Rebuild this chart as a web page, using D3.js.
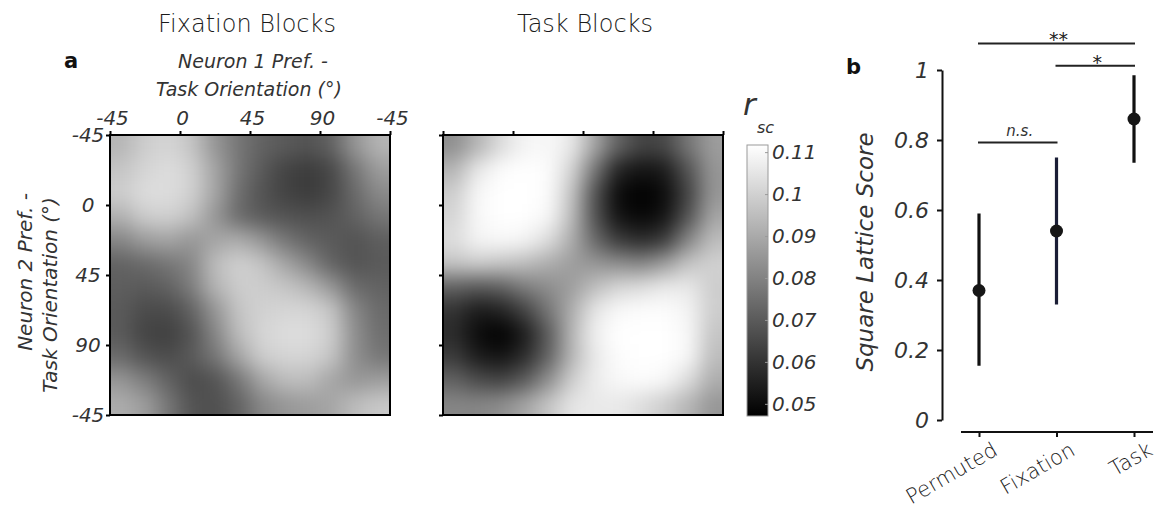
<!DOCTYPE html>
<html>
<head>
<meta charset="utf-8">
<script src="https://cdn.jsdelivr.net/npm/d3@7"></script>
<style>
  body { margin: 0; background: #fff; }
  svg text { font-family: "DejaVu Sans", "Liberation Sans", sans-serif; font-weight: 300; fill: #1a1a1a; }
  svg text.it { font-style: italic; fill: #333; }
  svg text.panel { font-weight: 700; fill: #111; }
  svg text.star { font-weight: 400; fill: #222; }
</style>
</head>
<body>
<svg id="chart" width="1160" height="510"></svg>
<script>
// ---- data -------------------------------------------------------------
// Orientation difference axis (deg), wraps around at 180
const orientTicks = [-45, 0, 45, 90, 135];
const orientTickLabels = ["-45", "0", "45", "90", "-45"];

// Noise correlation (r_sc) maps, rows = neuron 2 (top -> bottom), cols = neuron 1 (left -> right)
const fixationRsc = [
  [0.093, 0.099, 0.101, 0.097, 0.085, 0.077, 0.072, 0.070, 0.068, 0.072, 0.085, 0.093],
  [0.097, 0.101, 0.103, 0.100, 0.089, 0.077, 0.070, 0.064, 0.062, 0.065, 0.077, 0.087],
  [0.099, 0.103, 0.103, 0.100, 0.089, 0.075, 0.068, 0.064, 0.062, 0.065, 0.074, 0.082],
  [0.092, 0.099, 0.100, 0.096, 0.085, 0.074, 0.070, 0.068, 0.067, 0.068, 0.072, 0.077],
  [0.081, 0.087, 0.089, 0.085, 0.089, 0.091, 0.085, 0.077, 0.072, 0.070, 0.068, 0.071],
  [0.072, 0.074, 0.077, 0.081, 0.095, 0.100, 0.097, 0.089, 0.081, 0.072, 0.068, 0.070],
  [0.071, 0.070, 0.072, 0.079, 0.093, 0.099, 0.099, 0.097, 0.093, 0.085, 0.074, 0.072],
  [0.070, 0.066, 0.066, 0.072, 0.085, 0.097, 0.100, 0.101, 0.101, 0.097, 0.081, 0.074],
  [0.070, 0.064, 0.063, 0.068, 0.081, 0.095, 0.101, 0.103, 0.103, 0.099, 0.083, 0.075],
  [0.074, 0.068, 0.066, 0.070, 0.077, 0.089, 0.099, 0.101, 0.101, 0.097, 0.083, 0.077],
  [0.085, 0.079, 0.072, 0.066, 0.068, 0.077, 0.089, 0.095, 0.095, 0.089, 0.085, 0.087],
  [0.091, 0.087, 0.077, 0.068, 0.067, 0.072, 0.081, 0.085, 0.087, 0.089, 0.095, 0.098]
];
const taskRsc = [
  [0.083, 0.093, 0.103, 0.109, 0.110, 0.106, 0.089, 0.072, 0.064, 0.065, 0.077, 0.087],
  [0.093, 0.106, 0.111, 0.112, 0.111, 0.101, 0.077, 0.056, 0.052, 0.054, 0.068, 0.085],
  [0.099, 0.110, 0.113, 0.114, 0.111, 0.097, 0.068, 0.050, 0.047, 0.050, 0.064, 0.085],
  [0.101, 0.110, 0.113, 0.114, 0.110, 0.095, 0.068, 0.052, 0.049, 0.052, 0.068, 0.089],
  [0.103, 0.109, 0.110, 0.109, 0.103, 0.091, 0.074, 0.062, 0.058, 0.062, 0.081, 0.095],
  [0.097, 0.099, 0.097, 0.095, 0.091, 0.087, 0.085, 0.083, 0.081, 0.087, 0.097, 0.100],
  [0.072, 0.070, 0.072, 0.079, 0.083, 0.087, 0.095, 0.101, 0.103, 0.106, 0.106, 0.099],
  [0.060, 0.054, 0.056, 0.064, 0.077, 0.091, 0.105, 0.110, 0.111, 0.111, 0.109, 0.099],
  [0.058, 0.050, 0.047, 0.054, 0.070, 0.093, 0.108, 0.112, 0.113, 0.114, 0.110, 0.097],
  [0.062, 0.054, 0.052, 0.058, 0.072, 0.093, 0.106, 0.111, 0.114, 0.114, 0.110, 0.095],
  [0.072, 0.066, 0.064, 0.070, 0.083, 0.099, 0.107, 0.110, 0.111, 0.110, 0.103, 0.091],
  [0.081, 0.081, 0.083, 0.089, 0.097, 0.105, 0.106, 0.106, 0.103, 0.099, 0.093, 0.085]
];

// Colour bar
const rscRange = [0.0471, 0.1117];
const colorbarTicks = [0.05, 0.06, 0.07, 0.08, 0.09, 0.10, 0.11];
const colorbarLabels = ["0.05", "0.06", "0.07", "0.08", "0.09", "0.1", "0.11"];

// Square lattice score per condition (mean and interval)
const conditions = ["Permuted", "Fixation", "Task"];
const scoreMean = [0.37, 0.54, 0.86];
const scoreLow = [0.155, 0.33, 0.735];
const scoreHigh = [0.59, 0.75, 0.985];
const barColors = ["#111111", "#1b1e36", "#111111"];
const scoreTicks = [0, 0.2, 0.4, 0.6, 0.8, 1];
const scoreTickLabels = ["0", "0.2", "0.4", "0.6", "0.8", "1"];

// Pairwise comparisons
const compFrom = ["Permuted", "Fixation", "Permuted"];
const compTo = ["Task", "Task", "Fixation"];
const compLevel = [1.076, 1.012, 0.793];
const compLabel = ["**", "*", "n.s."];

// ---- drawing ----------------------------------------------------------
const svg = d3.select("#chart");
const defs = svg.append("defs");

const color = d3.scaleLinear().domain(rscRange).range(["#000000", "#ffffff"]).clamp(true);

// smoothing filter for the correlation maps
const filt = defs.append("filter")
  .attr("id", "smooth")
  .attr("filterUnits", "userSpaceOnUse")
  .attr("x", -60).attr("y", -60).attr("width", 400).attr("height", 400)
  .attr("color-interpolation-filters", "sRGB");
filt.append("feGaussianBlur").attr("stdDeviation", 10);

const mapSize = 280;
const mapTop = 135;
const orient = d3.scaleLinear().domain([-45, 135]).range([0, mapSize]);

function drawMap(grid, left, id, labelled) {
  const g = svg.append("g").attr("transform", `translate(${left},${mapTop})`);
  const n = grid.length;
  const band = d3.scaleBand().domain(d3.range(n)).range([0, mapSize]);
  const bw = band.bandwidth();
  const pad = 40;

  defs.append("clipPath").attr("id", "clip-" + id)
    .append("rect").attr("width", mapSize).attr("height", mapSize);

  const cells = [];
  grid.forEach((row, i) => row.forEach((v, j) => cells.push({ i, j, v })));

  const inner = g.append("g").attr("clip-path", `url(#clip-${id})`)
    .append("g").attr("filter", "url(#smooth)");

  inner.selectAll("rect").data(cells).join("rect")
    .attr("x", d => band(d.j) - (d.j === 0 ? pad : 0))
    .attr("y", d => band(d.i) - (d.i === 0 ? pad : 0))
    .attr("width", d => bw + 0.6 + (d.j === 0 ? pad : 0) + (d.j === n - 1 ? pad : 0))
    .attr("height", d => bw + 0.6 + (d.i === 0 ? pad : 0) + (d.i === n - 1 ? pad : 0))
    .attr("fill", d => color(d.v))
    .attr("shape-rendering", "crispEdges");

  const top = g.append("g")
    .call(d3.axisTop(orient).tickValues(orientTicks).tickSize(4).tickPadding(6)
      .tickFormat((d, i) => labelled ? orientTickLabels[i] : ""));
  const side = g.append("g")
    .call(d3.axisLeft(orient).tickValues(orientTicks).tickSize(4).tickPadding(6)
      .tickFormat((d, i) => labelled ? orientTickLabels[i] : ""));
  [top, side].forEach(ax => {
    ax.select(".domain").remove();
    ax.selectAll(".tick line").attr("stroke", "#000").attr("stroke-width", 2);
    ax.selectAll("text").attr("class", "it").attr("font-size", 20).attr("fill", null);
  });
  top.selectAll("text").attr("x", 2);
  side.selectAll("text").attr("text-anchor", "middle").attr("x", -22);

  g.append("rect").attr("width", mapSize).attr("height", mapSize)
    .attr("fill", "none").attr("stroke", "#000").attr("stroke-width", 2);
  return g;
}

drawMap(fixationRsc, 110, "fix", true);
drawMap(taskRsc, 443, "task", false);

// titles and panel letters
svg.append("text").attr("x", 247).attr("y", 32).attr("text-anchor", "middle")
  .attr("font-size", 24).text("Fixation Blocks");
svg.append("text").attr("x", 585).attr("y", 32).attr("text-anchor", "middle")
  .attr("font-size", 24).text("Task Blocks");
svg.append("text").attr("class", "panel").attr("x", 64).attr("y", 68)
  .attr("font-size", 21).text("a");
svg.append("text").attr("class", "panel").attr("x", 846).attr("y", 74)
  .attr("font-size", 21).text("b");

// heatmap axis titles
svg.append("text").attr("class", "it").attr("x", 253).attr("y", 68)
  .attr("text-anchor", "middle").attr("font-size", 19).text("Neuron 1 Pref. -");
svg.append("text").attr("class", "it").attr("x", 249).attr("y", 96)
  .attr("text-anchor", "middle").attr("font-size", 19).text("Task Orientation (°)");
svg.append("text").attr("class", "it")
  .attr("transform", "translate(32,272) rotate(-90)")
  .attr("text-anchor", "middle").attr("font-size", 20).text("Neuron 2 Pref. -");
svg.append("text").attr("class", "it")
  .attr("transform", "translate(57,295) rotate(-90)")
  .attr("text-anchor", "middle").attr("font-size", 20).text("Task Orientation (°)");

// colour bar
const cb = { x: 747, w: 21, top: 145, bottom: 416 };
const cbScale = d3.scaleLinear().domain(rscRange).range([cb.bottom, cb.top]);
const grad = defs.append("linearGradient").attr("id", "cbgrad")
  .attr("x1", 0).attr("y1", 1).attr("x2", 0).attr("y2", 0);
grad.selectAll("stop").data(d3.range(0, 1.0001, 0.1)).join("stop")
  .attr("offset", d => d)
  .attr("stop-color", d => color(rscRange[0] + d * (rscRange[1] - rscRange[0])));
svg.append("rect").attr("x", cb.x).attr("y", cb.top)
  .attr("width", cb.w).attr("height", cb.bottom - cb.top)
  .attr("fill", "url(#cbgrad)").attr("stroke", "#9a9a9a").attr("stroke-width", 1);
const cbAxis = svg.append("g").attr("transform", `translate(${cb.x + cb.w - 3},0)`)
  .call(d3.axisRight(cbScale).tickValues(colorbarTicks).tickSize(3).tickPadding(4)
    .tickFormat((d, i) => colorbarLabels[i]));
cbAxis.select(".domain").remove();
cbAxis.selectAll(".tick line").attr("stroke", "#999");
cbAxis.selectAll("text").attr("class", "it").attr("font-size", 20).attr("fill", null);

svg.append("text").attr("class", "it").attr("x", 743).attr("y", 115)
  .attr("font-size", 31).text("r");
svg.append("text").attr("class", "it").attr("x", 757).attr("y", 133)
  .attr("font-size", 16).text("sc");

// panel b: lattice scores
const y = d3.scaleLinear().domain([0, 1]).range([420, 70]);
const x = d3.scalePoint().domain(conditions).range([979, 1134]);

const yAxis = svg.append("g").attr("transform", "translate(942,0)")
  .call(d3.axisLeft(y).tickValues(scoreTicks).tickSize(5).tickSizeOuter(0).tickPadding(8)
    .tickFormat((d, i) => scoreTickLabels[i]));
yAxis.select(".domain").attr("stroke", "#111").attr("stroke-width", 2);
yAxis.selectAll(".tick line").attr("stroke", "#111").attr("stroke-width", 2);
yAxis.selectAll("text").attr("class", "it").attr("font-size", 22).attr("fill", null);

const xAxis = svg.append("g").attr("transform", "translate(0,432)")
  .call(d3.axisBottom(x).tickSize(5).tickSizeOuter(0).tickFormat(""));
xAxis.select(".domain").attr("d", "M961,0H1153").attr("stroke", "#111").attr("stroke-width", 2);
xAxis.selectAll(".tick line").attr("stroke", "#111").attr("stroke-width", 2);

svg.append("g").selectAll("text").data(conditions).join("text")
  .attr("transform", d => `translate(${x(d) + 20},454) rotate(-30)`)
  .attr("text-anchor", "end").attr("font-size", 21).text(d => d);

svg.append("text").attr("class", "it")
  .attr("transform", "translate(873,252) rotate(-90)")
  .attr("text-anchor", "middle").attr("font-size", 23).text("Square Lattice Score");

const pts = conditions.map((c, i) => ({ c, m: scoreMean[i], lo: scoreLow[i], hi: scoreHigh[i], col: barColors[i] }));
svg.append("g").selectAll("line").data(pts).join("line")
  .attr("x1", d => x(d.c)).attr("x2", d => x(d.c))
  .attr("y1", d => y(d.lo)).attr("y2", d => y(d.hi))
  .attr("stroke", d => d.col).attr("stroke-width", 3.2);
svg.append("g").selectAll("circle").data(pts).join("circle")
  .attr("cx", d => x(d.c)).attr("cy", d => y(d.m)).attr("r", 6.5)
  .attr("fill", "#161616");

// comparison brackets
const comps = compLabel.map((lab, i) => ({ a: compFrom[i], b: compTo[i], lv: compLevel[i], lab }));
svg.append("g").selectAll("line").data(comps).join("line")
  .attr("x1", d => x(d.a) - 1).attr("x2", d => x(d.b) + 1)
  .attr("y1", d => y(d.lv)).attr("y2", d => y(d.lv))
  .attr("stroke", "#222").attr("stroke-width", 2);
svg.append("g").selectAll("text").data(comps).join("text")
  .attr("class", d => d.lab === "n.s." ? "it" : "star")
  .attr("x", d => (x(d.a) + x(d.b)) / 2 + 2)
  .attr("y", d => d.lab === "n.s." ? y(d.lv) - 6 : y(d.lv) + 3)
  .attr("text-anchor", "middle")
  .attr("font-size", d => d.lab === "n.s." ? 15 : 19)
  .text(d => d.lab);
</script>
</body>
</html>
